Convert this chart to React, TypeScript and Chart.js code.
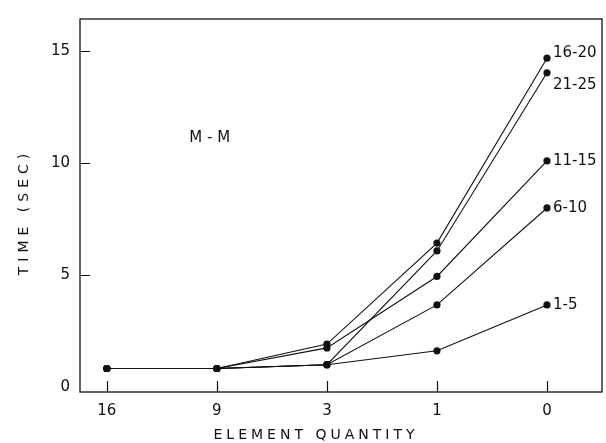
import React, { useEffect, useRef } from "react";
import { Chart, registerables } from "chart.js";

Chart.register(...registerables);

// ---- data ----
const categories = ["16", "9", "3", "1", "0"];
const seriesNames = ["16-20", "21-25", "11-15", "6-10", "1-5"];
const s16_20 = [0.83, 0.83, 1.92, 6.43, 14.69];
const s21_25 = [0.83, 0.83, 1.0, 6.08, 14.04];
const s11_15 = [0.83, 0.83, 1.75, 4.94, 10.1];
const s6_10 = [0.83, 0.83, 1.0, 3.67, 8.0];
const s1_5 = [0.83, 0.83, 1.0, 1.62, 3.67];
const yTicks = [0, 5, 10, 15];
const xTitle = "ELEMENT QUANTITY";
const yTitle = "TIME (SEC)";
const panelLabel = "M - M";
const panelPos = { x: 0.75, y: 11.1 };

const allSeries = [s16_20, s21_25, s11_15, s6_10, s1_5];
const labelOffsets = [-5, 12, 0, 0, 0];

const FONT = '"DejaVu Sans", sans-serif';

const decorPlugin = {
  id: "decor",
  afterDraw(chart: any) {
    const ctx = chart.ctx;
    const { left, right, top, bottom } = chart.chartArea;
    const xs = chart.scales.x;
    const ys = chart.scales.y;
    ctx.save();
    // frame
    ctx.strokeStyle = "#111";
    ctx.lineWidth = 1.3;
    ctx.strokeRect(left, top, right - left, bottom - top);
    // inward ticks
    ctx.lineWidth = 1.2;
    ctx.beginPath();
    yTicks.forEach((v) => {
      const py = Math.round(ys.getPixelForValue(v)) + 0.5;
      if (v === 0) return;
      ctx.moveTo(left, py);
      ctx.lineTo(left + 10, py);
    });
    categories.forEach((_, i) => {
      const px = Math.round(xs.getPixelForValue(i)) + 0.5;
      ctx.moveTo(px, bottom);
      ctx.lineTo(px, bottom - 11);
    });
    ctx.stroke();

    ctx.fillStyle = "#111";
    // series labels
    ctx.font = `15px ${FONT}`;
    ctx.textAlign = "left";
    ctx.textBaseline = "middle";
    seriesNames.forEach((name, i) => {
      const meta = chart.getDatasetMeta(i);
      const pt = meta.data[meta.data.length - 1];
      ctx.fillText(name, pt.x + 6, pt.y + labelOffsets[i]);
    });
    // panel label
    ctx.fillText(panelLabel, xs.getPixelForValue(panelPos.x), ys.getPixelForValue(panelPos.y));

    // axis titles
    ctx.font = `14px ${FONT}`;
    (ctx as any).letterSpacing = "4px";
    ctx.textAlign = "center";
    ctx.fillText(xTitle, 316, 435);
    (ctx as any).letterSpacing = "5px";
    ctx.translate(24, 212);
    ctx.rotate(-Math.PI / 2);
    ctx.fillText(yTitle, 0, 0);
    ctx.restore();
  },
};

export default function App() {
  const ref = useRef<HTMLCanvasElement | null>(null);
  useEffect(() => {
    if (!ref.current) return;
    const chart = new Chart(ref.current, {
      type: "line",
      data: {
        datasets: allSeries.map((s, i) => ({
          label: seriesNames[i],
          data: s.map((v, j) => ({ x: j, y: v })),
          borderColor: "#111",
          backgroundColor: "#111",
          borderWidth: 1.1,
          pointRadius: 3.6,
          pointBorderWidth: 0,
          pointBackgroundColor: "#111",
          tension: 0,
          fill: false,
        })),
      },
      options: {
        responsive: false,
        animation: false,
        devicePixelRatio: 1,
        layout: { padding: { top: 11, right: 2, left: 0, bottom: 0 } },
        plugins: {
          legend: { display: false },
          tooltip: { enabled: false },
          title: { display: false },
        },
        scales: {
          x: {
            type: "linear",
            min: -0.244,
            max: 4.5,
            grid: { display: false, drawTicks: false },
            border: { display: false },
            afterBuildTicks: (scale: any) => {
              scale.ticks = categories.map((_, i) => ({ value: i }));
            },
            afterFit: (scale: any) => {
              scale.height = 51;
            },
            ticks: {
              autoSkip: false,
              maxRotation: 0,
              padding: 10,
              color: "#111",
              font: { family: FONT, size: 15 },
              callback: (v: any) => categories[Math.round(Number(v))] ?? "",
            },
          },
          y: {
            type: "linear",
            min: -0.22,
            max: 16.44,
            grid: { display: false, drawTicks: false },
            border: { display: false },
            afterBuildTicks: (scale: any) => {
              scale.ticks = yTicks.map((v) => ({ value: v }));
            },
            afterFit: (scale: any) => {
              scale.width = 80;
            },
            ticks: {
              padding: 10,
              color: "#111",
              font: { family: FONT, size: 15 },
              callback: (v: any) => String(v),
            },
          },
        },
      },
      plugins: [decorPlugin],
    });
    return () => chart.destroy();
  }, []);
  return (
    <div style={{ position: "absolute", left: 0, top: 0, width: 606, height: 443, background: "#fff" }}>
      <canvas ref={ref} width={606} height={443} style={{ display: "block" }} />
    </div>
  );
}
